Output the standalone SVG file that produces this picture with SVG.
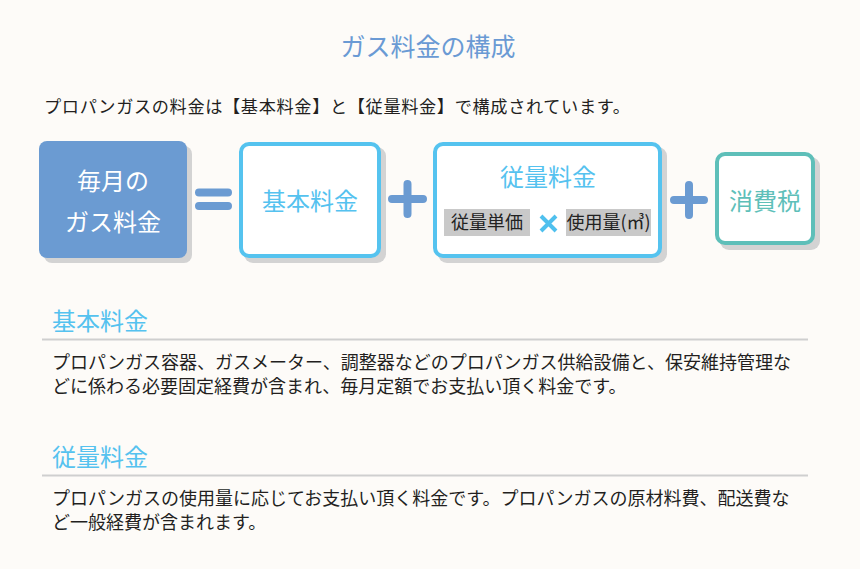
<svg xmlns="http://www.w3.org/2000/svg" width="860" height="569" viewBox="0 0 860 569">
<style>
text{font-family:"Noto Sans CJK JP","Noto Sans",sans-serif}
.body{font-size:18px;fill:#231f1e}
.head{font-size:24px;fill:#55c2ef}
.shadow{fill:#d3d3d3}
.box{fill:#ffffff;stroke:#55c3ef;stroke-width:4}
.op{stroke:#6b9bd2;stroke-width:8;stroke-linecap:round;fill:none}
.sep{stroke:#cfcfcf;stroke-width:2}
.chip{fill:#c9c9c9}
.chiptxt{font-size:18px;fill:#222}
</style>
<rect x="0" y="0" width="860" height="569" fill="#fdfbf8"/>
<text x="428" y="56" text-anchor="middle" font-size="25" fill="#6a9ad4">ガス料金の構成</text>
<text x="44" y="113" font-size="17.2" fill="#231f1e" textLength="586" lengthAdjust="spacing">プロパンガスの料金は【基本料金】と【従量料金】で構成されています。</text>

<g id="node-monthly">
<rect class="shadow" x="44" y="146" width="148" height="117" rx="8"/>
<rect x="39" y="141" width="148" height="117" rx="8" fill="#6b9bd2"/>
<text x="113" y="190" text-anchor="middle" font-size="24" fill="#ffffff">毎月の</text>
<text x="113" y="231" text-anchor="middle" font-size="24" fill="#ffffff">ガス料金</text>
</g>
<g id="node-basic">
<rect class="shadow" x="244" y="147" width="142" height="116" rx="9"/>
<rect class="box" x="241" y="144" width="138" height="112" rx="8"/>
<text x="310" y="210" text-anchor="middle" font-size="24" fill="#55c2ef">基本料金</text>
</g>
<g id="node-usage">
<rect class="shadow" x="438" y="147" width="229" height="116" rx="9"/>
<rect class="box" x="435" y="144" width="225" height="112" rx="8"/>
<text x="548" y="186" text-anchor="middle" font-size="24" fill="#55c2ef">従量料金</text>
<rect class="chip" x="444" y="209" width="86" height="27"/>
<text class="chiptxt" x="487" y="229" text-anchor="middle">従量単価</text>
<path d="M541 216 L556 231 M556 216 L541 231" stroke="#4fc0ee" stroke-width="4" fill="none"/>
<rect class="chip" x="566" y="209" width="85" height="27"/>
<text class="chiptxt" x="608.5" y="229" text-anchor="middle">使用量(㎥)</text>
</g>
<g id="node-tax">
<rect class="shadow" x="720" y="157" width="100" height="93" rx="9"/>
<rect x="717" y="154" width="96" height="89" rx="8" fill="#ffffff" stroke="#5ebfb9" stroke-width="4"/>
<text x="765" y="210" text-anchor="middle" font-size="24" fill="#5ebfb9">消費税</text>
</g>

<g id="connectors">
<path class="op" d="M199 192.5 H228 M199 206 H228"/>
<path class="op" d="M392 199 H423 M407.5 184 V214"/>
<path class="op" d="M674 200 H704 M689 185 V215"/>
</g>

<g id="section-basic">
<text class="head" x="52" y="330">基本料金</text>
<line class="sep" x1="42" y1="339.5" x2="808" y2="339.5"/>
<text class="body" x="52" y="369">プロパンガス容器、ガスメーター、調整器などのプロパンガス供給設備と、保安維持管理な</text>
<text class="body" x="52" y="393">どに係わる必要固定経費が含まれ、毎月定額でお支払い頂く料金です。</text>
</g>
<g id="section-usage">
<text class="head" x="52" y="466">従量料金</text>
<line class="sep" x1="42" y1="475.5" x2="808" y2="475.5"/>
<text class="body" x="52" y="505">プロパンガスの使用量に応じてお支払い頂く料金です。プロパンガスの原材料費、配送費な</text>
<text class="body" x="52" y="529">ど一般経費が含まれます。</text>
</g>
</svg>
